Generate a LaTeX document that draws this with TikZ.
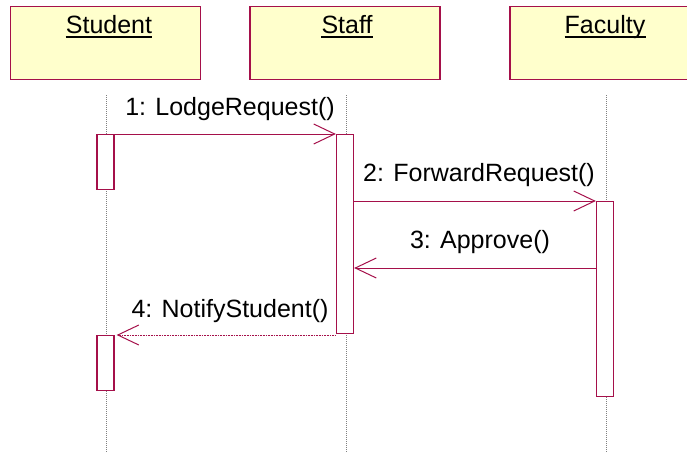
\documentclass[tikz,border=0pt]{standalone}
\usepackage{fontspec}
\setmainfont{Liberation Sans}
\usetikzlibrary{arrows.meta}
\definecolor{umlline}{HTML}{A5104A}
\definecolor{umlfill}{HTML}{FFFFCC}
\definecolor{lifegray}{HTML}{808080}
\tikzset{
  objbox/.style={draw=umlline, fill=umlfill, line width=1.3pt, minimum width=190pt, minimum height=73pt, inner sep=0pt, anchor=north},
  objname/.style={anchor=base, inner sep=0pt, font=\fontsize{25}{30}\selectfont},
  uline/.style={line width=1.5pt, black},
  lifeline/.style={lifegray, line width=1pt, dash pattern=on 1pt off 1pt},
  actbox/.style={draw=umlline, fill=white, line width=1.3pt, minimum width=17pt, inner sep=0pt, anchor=north},
  msg/.style={umlline, line width=1pt, -{Straight Barb[length=21pt, width=20pt, line width=1pt]}},
  retmsg/.style={msg, dash pattern=on 1pt off 0.6pt},
  msglabel/.style={anchor=base, inner sep=0pt, font=\fontsize{25}{30}\selectfont}
}
\begin{document}
\begin{tikzpicture}[x=1pt, y=-1pt]
\useasboundingbox (0,0) rectangle (687,452);

% lifelines (drawn first so the boxes sit on top)
\coordinate (stuTop) at (106,95);  \coordinate (stuBot) at (106,452);
\coordinate (stfTop) at (346,95);  \coordinate (stfBot) at (346,452);
\coordinate (facTop) at (606,95);  \coordinate (facBot) at (606,452);
\draw[lifeline] (stuTop) -- (stuBot);
\draw[lifeline] (stfTop) -- (stfBot);
\draw[lifeline] (facTop) -- (facBot);

% object boxes
\node[objbox] (stuBox) at (105.5,6) {};
\node[objbox] (stfBox) at (345,6) {};
\node[objbox] (facBox) at (605,6) {};
\node[objname] (stuName) at (109,34) {Student};
\node[objname] (stfName) at (347,34) {Staff};
\node[objname] (facName) at (605,34) {Faculty};
\draw[uline] ([yshift=-3pt]stuName.base west) -- ([yshift=-3pt]stuName.base east);
\draw[uline] ([yshift=-3pt]stfName.base west) -- ([yshift=-3pt]stfName.base east);
\draw[uline] ([yshift=-3pt]facName.base west) -- ([yshift=-3pt]facName.base east);

% activation bars
\node[actbox, minimum height=55pt]  (stuAct1) at (105.5,134) {};
\node[actbox, minimum height=199pt] (stfAct)  at (345,134) {};
\node[actbox, minimum height=195pt] (facAct)  at (605,201) {};
\node[actbox, minimum height=55pt]  (stuAct2) at (105.5,335) {};

% messages
\draw[msg] (stuAct1.north east) -- (stfAct.north west);
\node[msglabel] (m1) at (230,115) {1: LodgeRequest()};

\draw[msg] (stfAct.east |- facAct.north) -- (facAct.north west);
\node[msglabel] (m2) at (479,181) {2: ForwardRequest()};

\coordinate (m3y) at (0,268);
\draw[msg] (facAct.west |- m3y) -- (stfAct.east |- m3y);
\node[msglabel] (m3) at (480,248) {3: Approve()};

\draw[retmsg] (stfAct.south west |- stuAct2.north) -- ([xshift=2pt]stuAct2.north east);
\node[msglabel] (m4) at (230,317) {4: NotifyStudent()};
\end{tikzpicture}
\end{document}
